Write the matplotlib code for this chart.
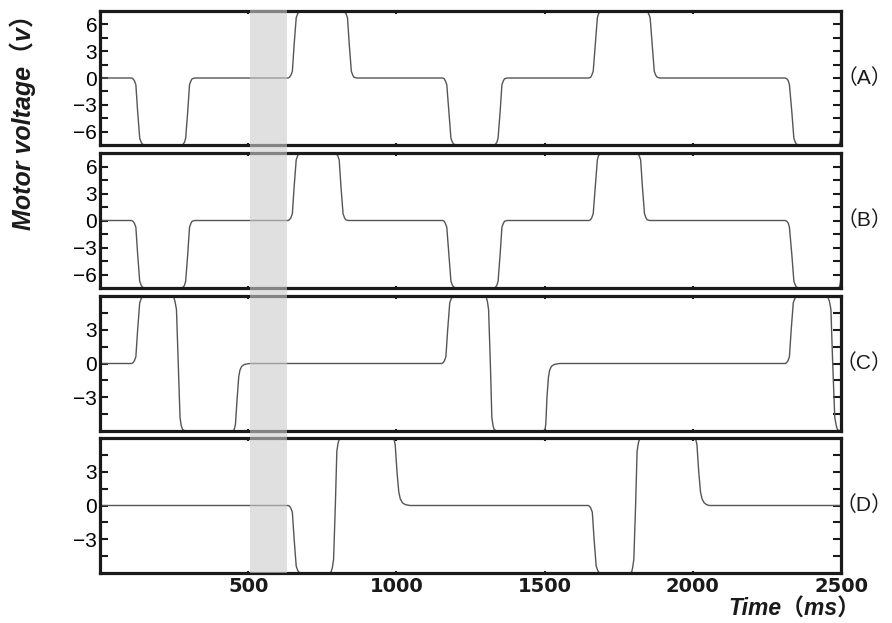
import matplotlib
matplotlib.use('Agg')
import matplotlib.pyplot as plt
import matplotlib.transforms as mtransforms
from matplotlib.patches import Rectangle
from matplotlib.ticker import FixedLocator

plt.rcParams['font.family'] = ['Liberation Sans', 'Noto Sans CJK SC', 'DejaVu Sans']

# ---------------- data ----------------
A_t = [0,
       107, 111, 116, 121, 127, 134, 139, 143, 152,
       276, 280, 285, 289, 296, 302, 307, 311, 320,
       635, 639, 644, 649, 655, 662, 667, 671, 680,
       821, 825, 830, 835, 841, 848, 853, 857, 866,
       1156, 1161, 1165, 1170, 1177, 1184, 1189, 1194, 1203,
       1330, 1334, 1339, 1343, 1350, 1356, 1361, 1365, 1374,
       1650, 1655, 1659, 1664, 1671, 1678, 1682, 1687, 1696,
       1842, 1847, 1851, 1856, 1863, 1870, 1875, 1880, 1889,
       2312, 2317, 2322, 2326, 2334, 2341, 2346, 2350, 2360,
       2490, 2494, 2497, 2500]
A_v = [0,
       0, -0.08, -0.3, -0.75, -3.75, -6.75, -7.2, -7.42, -7.5,
       -7.5, -7.42, -7.2, -6.75, -3.75, -0.75, -0.3, -0.08, 0,
       0, 0.08, 0.3, 0.75, 3.75, 6.75, 7.2, 7.42, 7.5,
       7.5, 7.42, 7.2, 6.75, 3.75, 0.75, 0.3, 0.08, 0,
       0, -0.08, -0.3, -0.75, -3.75, -6.75, -7.2, -7.42, -7.5,
       -7.5, -7.42, -7.2, -6.75, -3.75, -0.75, -0.3, -0.08, 0,
       0, 0.08, 0.3, 0.75, 3.75, 6.75, 7.2, 7.42, 7.5,
       7.5, 7.42, 7.2, 6.75, 3.75, 0.75, 0.3, 0.08, 0,
       0, -0.08, -0.3, -0.75, -3.75, -6.75, -7.2, -7.42, -7.5,
       -7.5, -7.42, -7.1, -6.3]

B_t = [0,
       107, 111, 116, 121, 127, 134, 139, 143, 152,
       276, 280, 285, 289, 296, 302, 307, 311, 320,
       635, 639, 644, 649, 655, 662, 667, 671, 680,
       793, 797, 802, 807, 813, 820, 825, 829, 838,
       1156, 1161, 1165, 1170, 1177, 1184, 1189, 1194, 1203,
       1330, 1334, 1339, 1343, 1350, 1356, 1361, 1365, 1374,
       1650, 1655, 1659, 1664, 1671, 1678, 1682, 1687, 1696,
       1810, 1814, 1819, 1824, 1830, 1837, 1842, 1846, 1855,
       2312, 2317, 2322, 2326, 2334, 2341, 2346, 2350, 2360,
       2490, 2494, 2497, 2500]
B_v = [0,
       0, -0.08, -0.3, -0.75, -3.75, -6.75, -7.2, -7.42, -7.5,
       -7.5, -7.42, -7.2, -6.75, -3.75, -0.75, -0.3, -0.08, 0,
       0, 0.08, 0.3, 0.75, 3.75, 6.75, 7.2, 7.42, 7.5,
       7.5, 7.42, 7.2, 6.75, 3.75, 0.75, 0.3, 0.08, 0,
       0, -0.08, -0.3, -0.75, -3.75, -6.75, -7.2, -7.42, -7.5,
       -7.5, -7.42, -7.2, -6.75, -3.75, -0.75, -0.3, -0.08, 0,
       0, 0.08, 0.3, 0.75, 3.75, 6.75, 7.2, 7.42, 7.5,
       7.5, 7.42, 7.2, 6.75, 3.75, 0.75, 0.3, 0.08, 0,
       0, -0.08, -0.3, -0.75, -3.75, -6.75, -7.2, -7.42, -7.5,
       -7.5, -7.42, -7.1, -6.3]

C_t = [0,
       107, 111, 116, 121, 127, 134, 139, 143, 152,
       245, 249, 253, 258, 264, 270, 274, 279, 287,
       448, 451, 454, 457, 463, 468, 472, 478, 488, 505,
       1153, 1157, 1162, 1167, 1173, 1180, 1185, 1189, 1198,
       1299, 1303, 1307, 1311, 1317, 1322, 1326, 1330, 1338,
       1496, 1499, 1502, 1504, 1508, 1513, 1517, 1523, 1533, 1550,
       2312, 2316, 2321, 2326, 2332, 2339, 2344, 2348, 2357,
       2452, 2456, 2461, 2466, 2472, 2479, 2484, 2488, 2497,
       2500]
C_v = [0,
       0, 0.06, 0.24, 0.6, 3, 5.4, 5.76, 5.94, 6,
       6, 5.88, 5.52, 4.8, 0, -4.8, -5.52, -5.88, -6,
       -6, -5.94, -5.76, -5.4, -3, -1.2, -0.6, -0.25, -0.08, 0,
       0, 0.06, 0.24, 0.6, 3, 5.4, 5.76, 5.94, 6,
       6, 5.88, 5.52, 4.8, 0, -4.8, -5.52, -5.88, -6,
       -6, -5.94, -5.76, -5.4, -3, -1.2, -0.6, -0.25, -0.08, 0,
       0, 0.06, 0.24, 0.6, 3, 5.4, 5.76, 5.94, 6,
       6, 5.88, 5.52, 4.8, 0, -4.8, -5.52, -5.88, -6,
       -6]

D_t = [0,
       635, 639, 644, 649, 655, 662, 667, 671, 680,
       776, 780, 784, 788, 794, 799, 803, 807, 815,
       987, 990, 993, 996, 1002, 1008, 1013, 1020, 1030, 1046,
       1647, 1651, 1656, 1661, 1667, 1674, 1679, 1683, 1692,
       1790, 1794, 1797, 1801, 1807, 1812, 1816, 1820, 1827,
       2005, 2008, 2011, 2014, 2020, 2026, 2031, 2038, 2046, 2056,
       2500]
D_v = [0,
       0, -0.06, -0.24, -0.6, -3, -5.4, -5.76, -5.94, -6,
       -6, -5.88, -5.52, -4.8, 0, 4.8, 5.52, 5.88, 6,
       6, 5.94, 5.76, 5.4, 3, 1.2, 0.6, 0.25, 0.08, 0,
       0, -0.06, -0.24, -0.6, -3, -5.4, -5.76, -5.94, -6,
       -6, -5.88, -5.52, -4.8, 0, 4.8, 5.52, 5.88, 6,
       6, 5.94, 5.76, 5.4, 3, 1.2, 0.6, 0.25, 0.08, 0,
       0]

panel_labels = ['（A）', '（B）', '（C）', '（D）']
x_ticks = [500, 1000, 1500, 2000, 2500]
x_tick_labels = ['500', '1000', '1500', '2000', '2500']
ab_major = [-6, -3, 0, 3, 6]
cd_major = [-3, 0, 3]
minor_y = [-4.5, -1.5, 1.5, 4.5]
band_range = (505, 630)
x_label = 'Time（ms）'
y_label = 'Motor voltage（v）'

series = [(A_t, A_v, 7.5, ab_major), (B_t, B_v, 7.5, ab_major),
          (C_t, C_v, 6.0, cd_major), (D_t, D_v, 6.0, cd_major)]

# ---------------- layout ----------------
W, H = 892, 623
fig = plt.figure(figsize=(W / 100, H / 100), dpi=100)
left_px, right_px = 100, 841
panels_px = [(11, 145), (153, 288), (296, 431), (438, 573)]

axes = []
for (top, bot), (t, v, lim, major), lab in zip(panels_px, series, panel_labels):
    ax = fig.add_axes([left_px / W, 1 - bot / H, (right_px - left_px) / W, (bot - top) / H])
    ax.plot(t, v, color='#555555', lw=1.0, zorder=2)
    ax.set_xlim(0, 2500)
    ax.set_ylim(-lim, lim)
    for s in ax.spines.values():
        s.set_linewidth(2.3)
        s.set_color('#1a1a1a')
    ax.yaxis.set_major_locator(FixedLocator(major))
    ax.yaxis.set_minor_locator(FixedLocator(minor_y))
    ax.set_yticklabels([f'{m:d}'.replace('-', '\u2212') for m in major])
    ax.tick_params(axis='y', which='both', direction='in', left=True, right=True,
                   length=5.5, width=1.5, color='#1a1a1a', labelsize=15, pad=2)
    ax.set_xticks(x_ticks)
    ax.tick_params(axis='x', which='both', direction='in', top=True, bottom=True,
                   length=1.8, width=1.5, color='#1a1a1a')
    ax.set_xticklabels([])
    ax.text(892 / W, 1 - (top + bot) / 2 / H, lab, transform=fig.transFigure,
            ha='right', va='center', fontsize=15, color='#1a1a1a')
    axes.append(ax)

axD = axes[-1]
axD.set_xticklabels(x_tick_labels, fontfamily='DejaVu Sans', fontweight='bold', fontsize=14)
axD.tick_params(axis='x', pad=3, labelcolor='#1a1a1a')

# gray band spanning all panels
trans = mtransforms.blended_transform_factory(axD.transData, fig.transFigure)
band = Rectangle((band_range[0], 1 - 573 / H), band_range[1] - band_range[0],
                 (573 - 10) / H, transform=trans, facecolor=(0.8, 0.8, 0.8),
                 alpha=0.6, edgecolor='none', zorder=10)
fig.add_artist(band)

fig.text(0.026, 1 - 116 / H, y_label, rotation=90, ha='center', va='center',
         fontsize=18, fontweight='bold', fontstyle='italic', color='#1a1a1a')
fig.text(860 / W, 1 - 609 / H, x_label, ha='right', va='center',
         fontsize=16.5, fontweight='bold', fontstyle='italic', color='#1a1a1a')

fig.savefig('out.png', dpi=100)
